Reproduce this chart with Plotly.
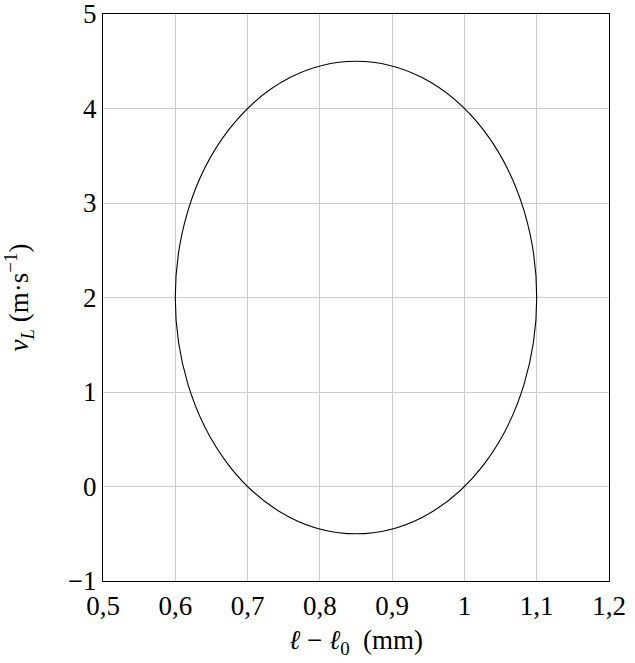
import plotly.graph_objects as go

# Data
x_ticks = [0.5, 0.6, 0.7, 0.8, 0.9, 1.0, 1.1, 1.2]
y_ticks = [-1, 0, 1, 2, 3, 4, 5]
ellipse_x_range = [0.6, 1.1]   # min/max of l - l0 (mm)
ellipse_y_range = [-0.5, 4.5]  # min/max of v_L (m/s)

font = dict(family="Liberation Serif, Times New Roman, serif", size=27, color="black")

fig = go.Figure()
# invisible trace so axes render
fig.add_trace(go.Scatter(x=[ellipse_x_range[0]], y=[ellipse_y_range[0]], mode="markers",
                         marker=dict(opacity=0), hoverinfo="skip", showlegend=False))
fig.add_shape(type="circle", xref="x", yref="y",
              x0=ellipse_x_range[0], x1=ellipse_x_range[1],
              y0=ellipse_y_range[0], y1=ellipse_y_range[1],
              line=dict(color="black", width=1.1))

fig.update_layout(
    width=635, height=663,
    margin=dict(l=103, r=26, t=14, b=82, autoexpand=False),
    plot_bgcolor="white", paper_bgcolor="white",
    separators=", ",
    font=font,
    showlegend=False,
)
fig.update_xaxes(range=[0.5, 1.2], tickvals=x_ticks, showgrid=True, gridcolor="#cccccc",
                 gridwidth=1, showline=True, linecolor="black", linewidth=1.2, mirror=True,
                 zeroline=False, ticks="", tickfont=font, automargin=False,
                 ticklabeloverflow="allow",
                 title=dict(text="<i>ℓ</i>\u00a0−\u00a0<i>ℓ</i><sub>0</sub>\u00a0\u00a0(mm)", font=font, standoff=10))
fig.update_yaxes(range=[-1, 5], tickvals=y_ticks, showgrid=True, gridcolor="#cccccc",
                 gridwidth=1, showline=True, linecolor="black", linewidth=1.2, mirror=True,
                 zeroline=False, ticks="", tickfont=font, automargin=False,
                 ticklabeloverflow="allow",
                 title=dict(text="<i>v<sub>L</sub></i>\u00a0(m·s<sup>−1</sup>)", font=font, standoff=56))

fig.write_html("out.html", config={"displayModeBar": False},
               post_script="document.body.style.margin='0';")
